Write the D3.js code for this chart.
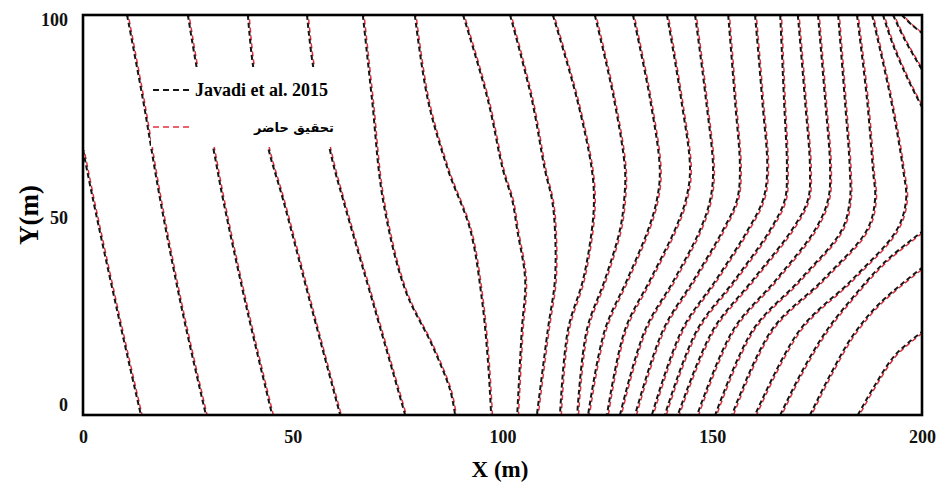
<!DOCTYPE html>
<html>
<head>
<meta charset="utf-8">
<script src="https://cdn.jsdelivr.net/npm/d3@7"></script>
<style>
  body { margin: 0; background: #fff; }
  svg { display: block; }
</style>
</head>
<body>
<script>
// legend names
const seriesNames = ["Javadi et al. 2015", "تحقیق حاضر"];
const xTicks = [0, 50, 100, 150, 200];
const yTicks = [0, 50, 100];

// contour lines on the left side, [x, y] in metres
const leftLines = [
  [[0, 66.3], [2.4, 53.8], [8.1, 26.3], [13.8, 0]],
  [[10.5, 100], [14.3, 78.8], [18.4, 53.8], [23.6, 26.3], [29.3, 0]],
  [[25.0, 100], [27.2, 86.3], [31.0, 67.0], [33.4, 53.8], [39.1, 26.3], [45.1, 0]],
  [[39.3, 100], [40.5, 87.5], [44.1, 67.0], [47.7, 53.8], [54.6, 26.3], [61.3, 0]],
  [[53.4, 100], [54.8, 87.5], [59.4, 63.8], [62.0, 53.8], [69.6, 26.3], [76.8, 0]],
  [[66.7, 100], [68.9, 78.8], [71.5, 53.8], [76.8, 31.3], [83.2, 17.5], [87.5, 6.3], [88.7, 0]],
  [[79.1, 100], [82.2, 78.8], [87.0, 61.3], [92.3, 46.3], [95.1, 28.8], [96.5, 13.8], [97.3, 0]]
];

// bowed contour lines on the right side: x read at these y levels
const bowY = [100, 78.8, 61.3, 53.8, 46.3, 33.8, 21.3, 0];
const bowX = [
  [90.6, 96.5, 100.1, 102.3, 103.5, 105.4, 104.6, 103.5],
  [101.8, 107.0, 110.1, 111.8, 112.5, 112.5, 110.8, 108.2],
  [112.0, 117.8, 121.3, 121.8, 121.3, 119.2, 115.6, 113.7],
  [122.0, 126.6, 129.2, 129.0, 128.0, 124.4, 120.1, 117.8],
  [131.1, 135.2, 137.5, 136.8, 134.7, 129.7, 124.4, 120.4],
  [139.2, 142.6, 144.7, 143.7, 141.1, 135.2, 129.2, 124.9],
  [145.9, 148.5, 150.2, 149.5, 147.1, 140.9, 134.0, 128.0],
  [153.8, 155.4, 156.6, 155.9, 152.6, 145.6, 138.3, 131.6],
  [160.2, 161.9, 163.1, 162.1, 158.5, 150.9, 142.8, 135.6],
  [166.2, 167.1, 167.8, 167.3, 163.8, 155.4, 146.4, 138.7],
  [170.4, 172.1, 173.3, 172.8, 169.0, 159.7, 150.2, 141.8],
  [175.2, 176.9, 178.1, 177.6, 174.5, 165.2, 155.0, 146.4],
  [180.0, 181.6, 182.8, 182.8, 180.9, 170.9, 159.7, 150.7],
  [184.5, 186.9, 188.3, 188.8, 186.9, 176.4, 164.2, 154.7],
  [188.1, 192.6, 195.5, 196.2, 194.0, 183.3, 170.9, 160.2]
];

// lines running into the right edge
const edgeLines = [
  [[166.2, 0], [171.6, 11.3], [177.4, 21.3], [184.0, 30.0], [191.2, 38.3], [200, 45.8]],
  [[173.3, 0], [178.1, 10.0], [183.6, 20.0], [190.0, 28.0], [200, 36.8]],
  [[184.7, 0], [188.8, 7.5], [193.6, 15.0], [200, 20.8]],
  [[190.7, 100], [193.1, 92.5], [196.7, 83.8], [200, 77.0]],
  [[193.1, 100], [195.9, 93.8], [200, 86.3]],
  [[195.2, 100], [197.6, 97.5], [200, 95.5]]
];

const width = 951, height = 484;
const margin = { top: 15, right: 29, bottom: 69, left: 83 };

const svg = d3.select("body").append("svg")
  .attr("width", width)
  .attr("height", height);

const x = d3.scaleLinear().domain([0, 200]).range([margin.left, width - margin.right]);
const y = d3.scaleLinear().domain([0, 100]).range([height - margin.bottom, margin.top]);

svg.append("clipPath").attr("id", "plot")
  .append("rect")
  .attr("x", x(0)).attr("y", y(100))
  .attr("width", x(200) - x(0)).attr("height", y(0) - y(100));

// all contour lines as point lists
const allLines = leftLines
  .concat(bowX.map(xs => xs.map((v, i) => [v, bowY[i]])))
  .concat(edgeLines);

const line = d3.line()
  .x(d => x(d[0]))
  .y(d => y(d[1]))
  .curve(d3.curveCatmullRom.alpha(0.5));

const g = svg.append("g").attr("clip-path", "url(#plot)");

// present study (red) sits almost on top of the reference lines
g.append("g")
  .attr("transform", "translate(1.3,0.6)")
  .selectAll("path")
  .data(allLines)
  .join("path")
  .attr("d", line)
  .attr("fill", "none")
  .attr("stroke", "#e3323f")
  .attr("stroke-width", 1.5)
  .attr("stroke-dasharray", "5,3")
  .attr("stroke-dashoffset", 4);

g.append("g")
  .selectAll("path")
  .data(allLines)
  .join("path")
  .attr("d", line)
  .attr("fill", "none")
  .attr("stroke", "#161616")
  .attr("stroke-width", 2)
  .attr("stroke-dasharray", "5,3");

// legend box hides the lines behind it
const lg = svg.append("g");
lg.append("rect")
  .attr("x", 151).attr("y", 67)
  .attr("width", 188).attr("height", 80)
  .attr("fill", "#fff");

lg.append("line")
  .attr("x1", 153).attr("x2", 193).attr("y1", 90).attr("y2", 90)
  .attr("stroke", "#161616").attr("stroke-width", 2)
  .attr("stroke-dasharray", "6,4");
lg.append("text")
  .attr("x", 195).attr("y", 96)
  .style("font-family", "'Liberation Serif', 'Times New Roman', serif")
  .style("font-weight", "bold")
  .style("font-size", "18px")
  .text(seriesNames[0]);

lg.append("line")
  .attr("x1", 153).attr("x2", 193).attr("y1", 127).attr("y2", 127)
  .attr("stroke", "#e3323f").attr("stroke-width", 1.5)
  .attr("stroke-dasharray", "6,4");
lg.append("text")
  .attr("x", 334).attr("y", 132)
  .attr("text-anchor", "end")
  .style("font-family", "'DejaVu Sans', 'Noto Sans', sans-serif")
  .style("font-weight", "bold")
  .style("font-size", "13px")
  .text(seriesNames[1]);

// axes
const tickFont = "'Liberation Serif', 'Times New Roman', serif";

const xAxis = svg.append("g")
  .attr("transform", `translate(0,${y(0)})`)
  .call(d3.axisBottom(x).tickValues(xTicks).tickSize(0).tickPadding(15));

const yAxis = svg.append("g")
  .attr("transform", `translate(${x(0)},0)`)
  .call(d3.axisLeft(y).tickValues(yTicks).tickSize(0).tickPadding(15));

[xAxis, yAxis].forEach(a => {
  a.select(".domain").remove();
  a.selectAll("text")
    .style("font-family", tickFont)
    .style("font-weight", "bold")
    .style("font-size", "18px")
    .attr("fill", "#111");
});

// y labels sit a little inside the frame ends
yAxis.selectAll(".tick text")
  .attr("dy", d => d === 0 ? "-0.25em" : d === 100 ? "0.6em" : "0.45em");

// frame
svg.append("rect")
  .attr("x", x(0)).attr("y", y(100))
  .attr("width", x(200) - x(0)).attr("height", y(0) - y(100))
  .attr("fill", "none")
  .attr("stroke", "#000")
  .attr("stroke-width", 2.6);

// axis titles
svg.append("text")
  .attr("x", 500).attr("y", 477)
  .attr("text-anchor", "middle")
  .style("font-family", tickFont)
  .style("font-weight", "bold")
  .style("font-size", "23px")
  .text("X (m)");

svg.append("text")
  .attr("transform", `translate(38,${(y(0) + y(100)) / 2}) rotate(-90)`)
  .attr("text-anchor", "middle")
  .style("font-family", tickFont)
  .style("font-weight", "bold")
  .style("font-size", "27px")
  .text("Y(m)");
</script>
</body>
</html>
